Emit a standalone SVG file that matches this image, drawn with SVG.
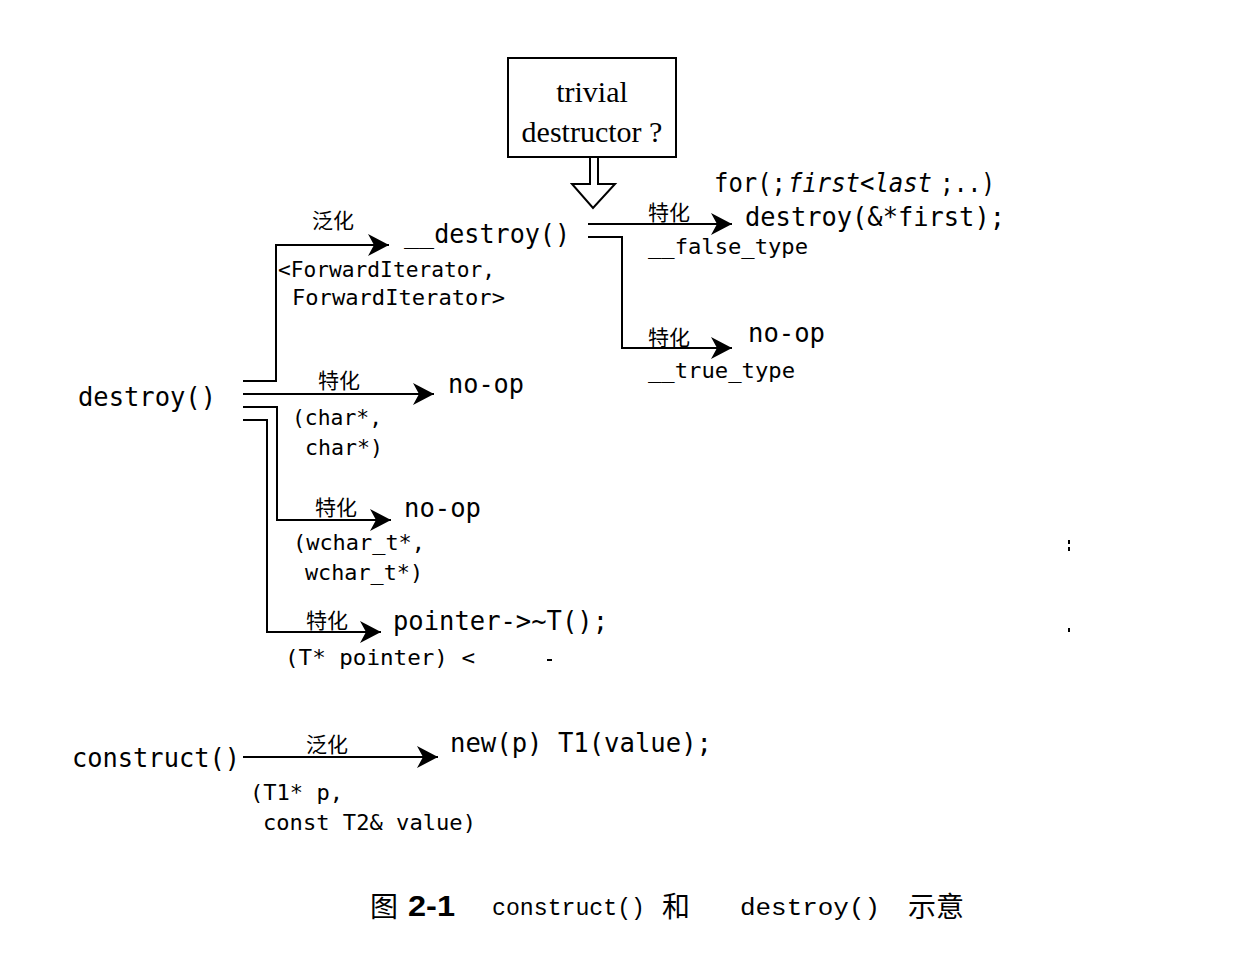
<svg xmlns="http://www.w3.org/2000/svg" width="1258" height="961" viewBox="0 0 1258 961">
<style>
.code{font-family:"DejaVu Sans Mono","Liberation Mono",monospace;font-size:27px;fill:#000}
.small{font-family:"DejaVu Sans Mono","Liberation Mono",monospace;font-size:21px;fill:#000}
.cjk{font-family:"Noto Sans CJK SC","Noto Sans CJK JP",sans-serif;font-size:21px;fill:#000}
.serif{font-family:"Liberation Serif","DejaVu Serif",serif;font-size:30px;fill:#000}
.cap{font-family:"Noto Sans CJK SC",sans-serif;font-size:28px;fill:#000}
.capcode{font-family:"Liberation Mono","DejaVu Sans Mono",monospace;font-size:23px;fill:#000}
.capnum{font-family:"Liberation Sans",Arial,sans-serif;font-size:29px;font-weight:bold;fill:#000}
.ln{fill:none;stroke:#000;stroke-width:2;marker-end:url(#ah)}
</style>
<defs>
<marker id="ah" markerUnits="userSpaceOnUse" markerWidth="22" markerHeight="24" refX="21" refY="11" orient="auto" viewBox="0 0 22 22">
<path d="M0,0 L21,11 L0,22 L6,11 z" fill="#000"/>
</marker>
</defs>
<rect width="1258" height="961" fill="#fff"/>

<g id="connectors">
<polyline class="ln" points="243,381 276,381 276,245 389,245"/>
<polyline class="ln" points="243,394 434,394"/>
<polyline class="ln" points="243,407 277,407 277,520 391,520"/>
<polyline class="ln" points="243,420 267,420 267,632 381,632"/>
<polyline class="ln" points="588,224 732,224"/>
<polyline class="ln" points="588,237 622,237 622,348 732,348"/>
<polyline class="ln" points="243,757 438,757"/>
<path d="M590,157 L590,184 L572,184 L593,208 L615,184 L598,184 L598,157" fill="#fff" stroke="#000" stroke-width="2"/>
</g>

<g id="node-trivial">
<rect x="508" y="58" width="168" height="99" fill="#fff" stroke="#000" stroke-width="2"/>
<text class="serif" x="592" y="102" text-anchor="middle">trivial</text>
<text class="serif" x="592" y="142" text-anchor="middle">destructor ?</text>
</g>

<g id="node-destroy"><text class="code" x="78" y="406" textLength="138" lengthAdjust="spacingAndGlyphs">destroy()</text></g>
<g id="node-__destroy"><text class="code" x="404" y="243" textLength="166" lengthAdjust="spacingAndGlyphs">__destroy()</text></g>
<g id="node-for">
<text class="code" x="714" y="192" textLength="72" lengthAdjust="spacingAndGlyphs">for(;</text>
<text class="code" x="788" y="192" font-style="italic" font-size="24" textLength="144" lengthAdjust="spacingAndGlyphs">first&lt;last</text>
<text class="code" x="940" y="192" textLength="55" lengthAdjust="spacingAndGlyphs">;..)</text>
<text class="code" x="745" y="226" textLength="260" lengthAdjust="spacingAndGlyphs">destroy(&amp;*first);</text>
</g>
<g id="node-noop-true"><text class="code" x="748" y="342" textLength="77" lengthAdjust="spacingAndGlyphs">no-op</text></g>
<g id="node-noop-char"><text class="code" x="448" y="393" textLength="76" lengthAdjust="spacingAndGlyphs">no-op</text></g>
<g id="node-noop-wchar"><text class="code" x="404" y="517" textLength="77" lengthAdjust="spacingAndGlyphs">no-op</text></g>
<g id="node-pointer"><text class="code" x="393" y="630" textLength="215" lengthAdjust="spacingAndGlyphs">pointer-&gt;~T();</text></g>
<g id="node-construct"><text class="code" x="72" y="767" textLength="168" lengthAdjust="spacingAndGlyphs">construct()</text></g>
<g id="node-new"><text class="code" x="450" y="752" textLength="262" lengthAdjust="spacingAndGlyphs">new(p) T1(value);</text></g>

<g id="labels">
<text class="cjk" x="312" y="228">泛化</text>
<text class="small" x="278" y="277" textLength="217" lengthAdjust="spacingAndGlyphs">&lt;ForwardIterator,</text>
<text class="small" x="292" y="305" textLength="213" lengthAdjust="spacingAndGlyphs">ForwardIterator&gt;</text>
<text class="cjk" x="648" y="220">特化</text>
<text class="small" x="648" y="254" textLength="160" lengthAdjust="spacingAndGlyphs">__false_type</text>
<text class="cjk" x="648" y="345">特化</text>
<text class="small" x="648" y="378" textLength="147" lengthAdjust="spacingAndGlyphs">__true_type</text>
<text class="cjk" x="318" y="388">特化</text>
<text class="small" x="292" y="425" textLength="90" lengthAdjust="spacingAndGlyphs">(char*,</text>
<text class="small" x="305" y="455" textLength="78" lengthAdjust="spacingAndGlyphs">char*)</text>
<text class="cjk" x="315" y="515">特化</text>
<text class="small" x="293" y="550" textLength="132" lengthAdjust="spacingAndGlyphs">(wchar_t*,</text>
<text class="small" x="305" y="580" textLength="118" lengthAdjust="spacingAndGlyphs">wchar_t*)</text>
<text class="cjk" x="306" y="628">特化</text>
<text class="small" x="285" y="665" textLength="190" lengthAdjust="spacingAndGlyphs">(T* pointer) &lt;</text>
<text class="cjk" x="306" y="752">泛化</text>
<text class="small" x="250" y="800" textLength="93" lengthAdjust="spacingAndGlyphs">(T1* p,</text>
<text class="small" x="263" y="830" textLength="213" lengthAdjust="spacingAndGlyphs">const T2&amp; value)</text>
</g>

<g id="caption">
<text class="cap" x="370" y="917">图</text>
<text class="capnum" x="408" y="916" textLength="47" lengthAdjust="spacingAndGlyphs">2-1</text>
<text class="capcode" x="492" y="915" textLength="153" lengthAdjust="spacingAndGlyphs">construct()</text>
<text class="cap" x="662" y="917">和</text>
<text class="capcode" x="740" y="915" textLength="140" lengthAdjust="spacingAndGlyphs">destroy()</text>
<text class="cap" x="908" y="917">示意</text>
</g>

<g id="specks" fill="#000">
<rect x="1068" y="540" width="2" height="4"/>
<rect x="1068" y="547" width="2" height="4"/>
<rect x="1068" y="628" width="2" height="4"/>
<rect x="547" y="659" width="5" height="2"/>
</g>
</svg>
